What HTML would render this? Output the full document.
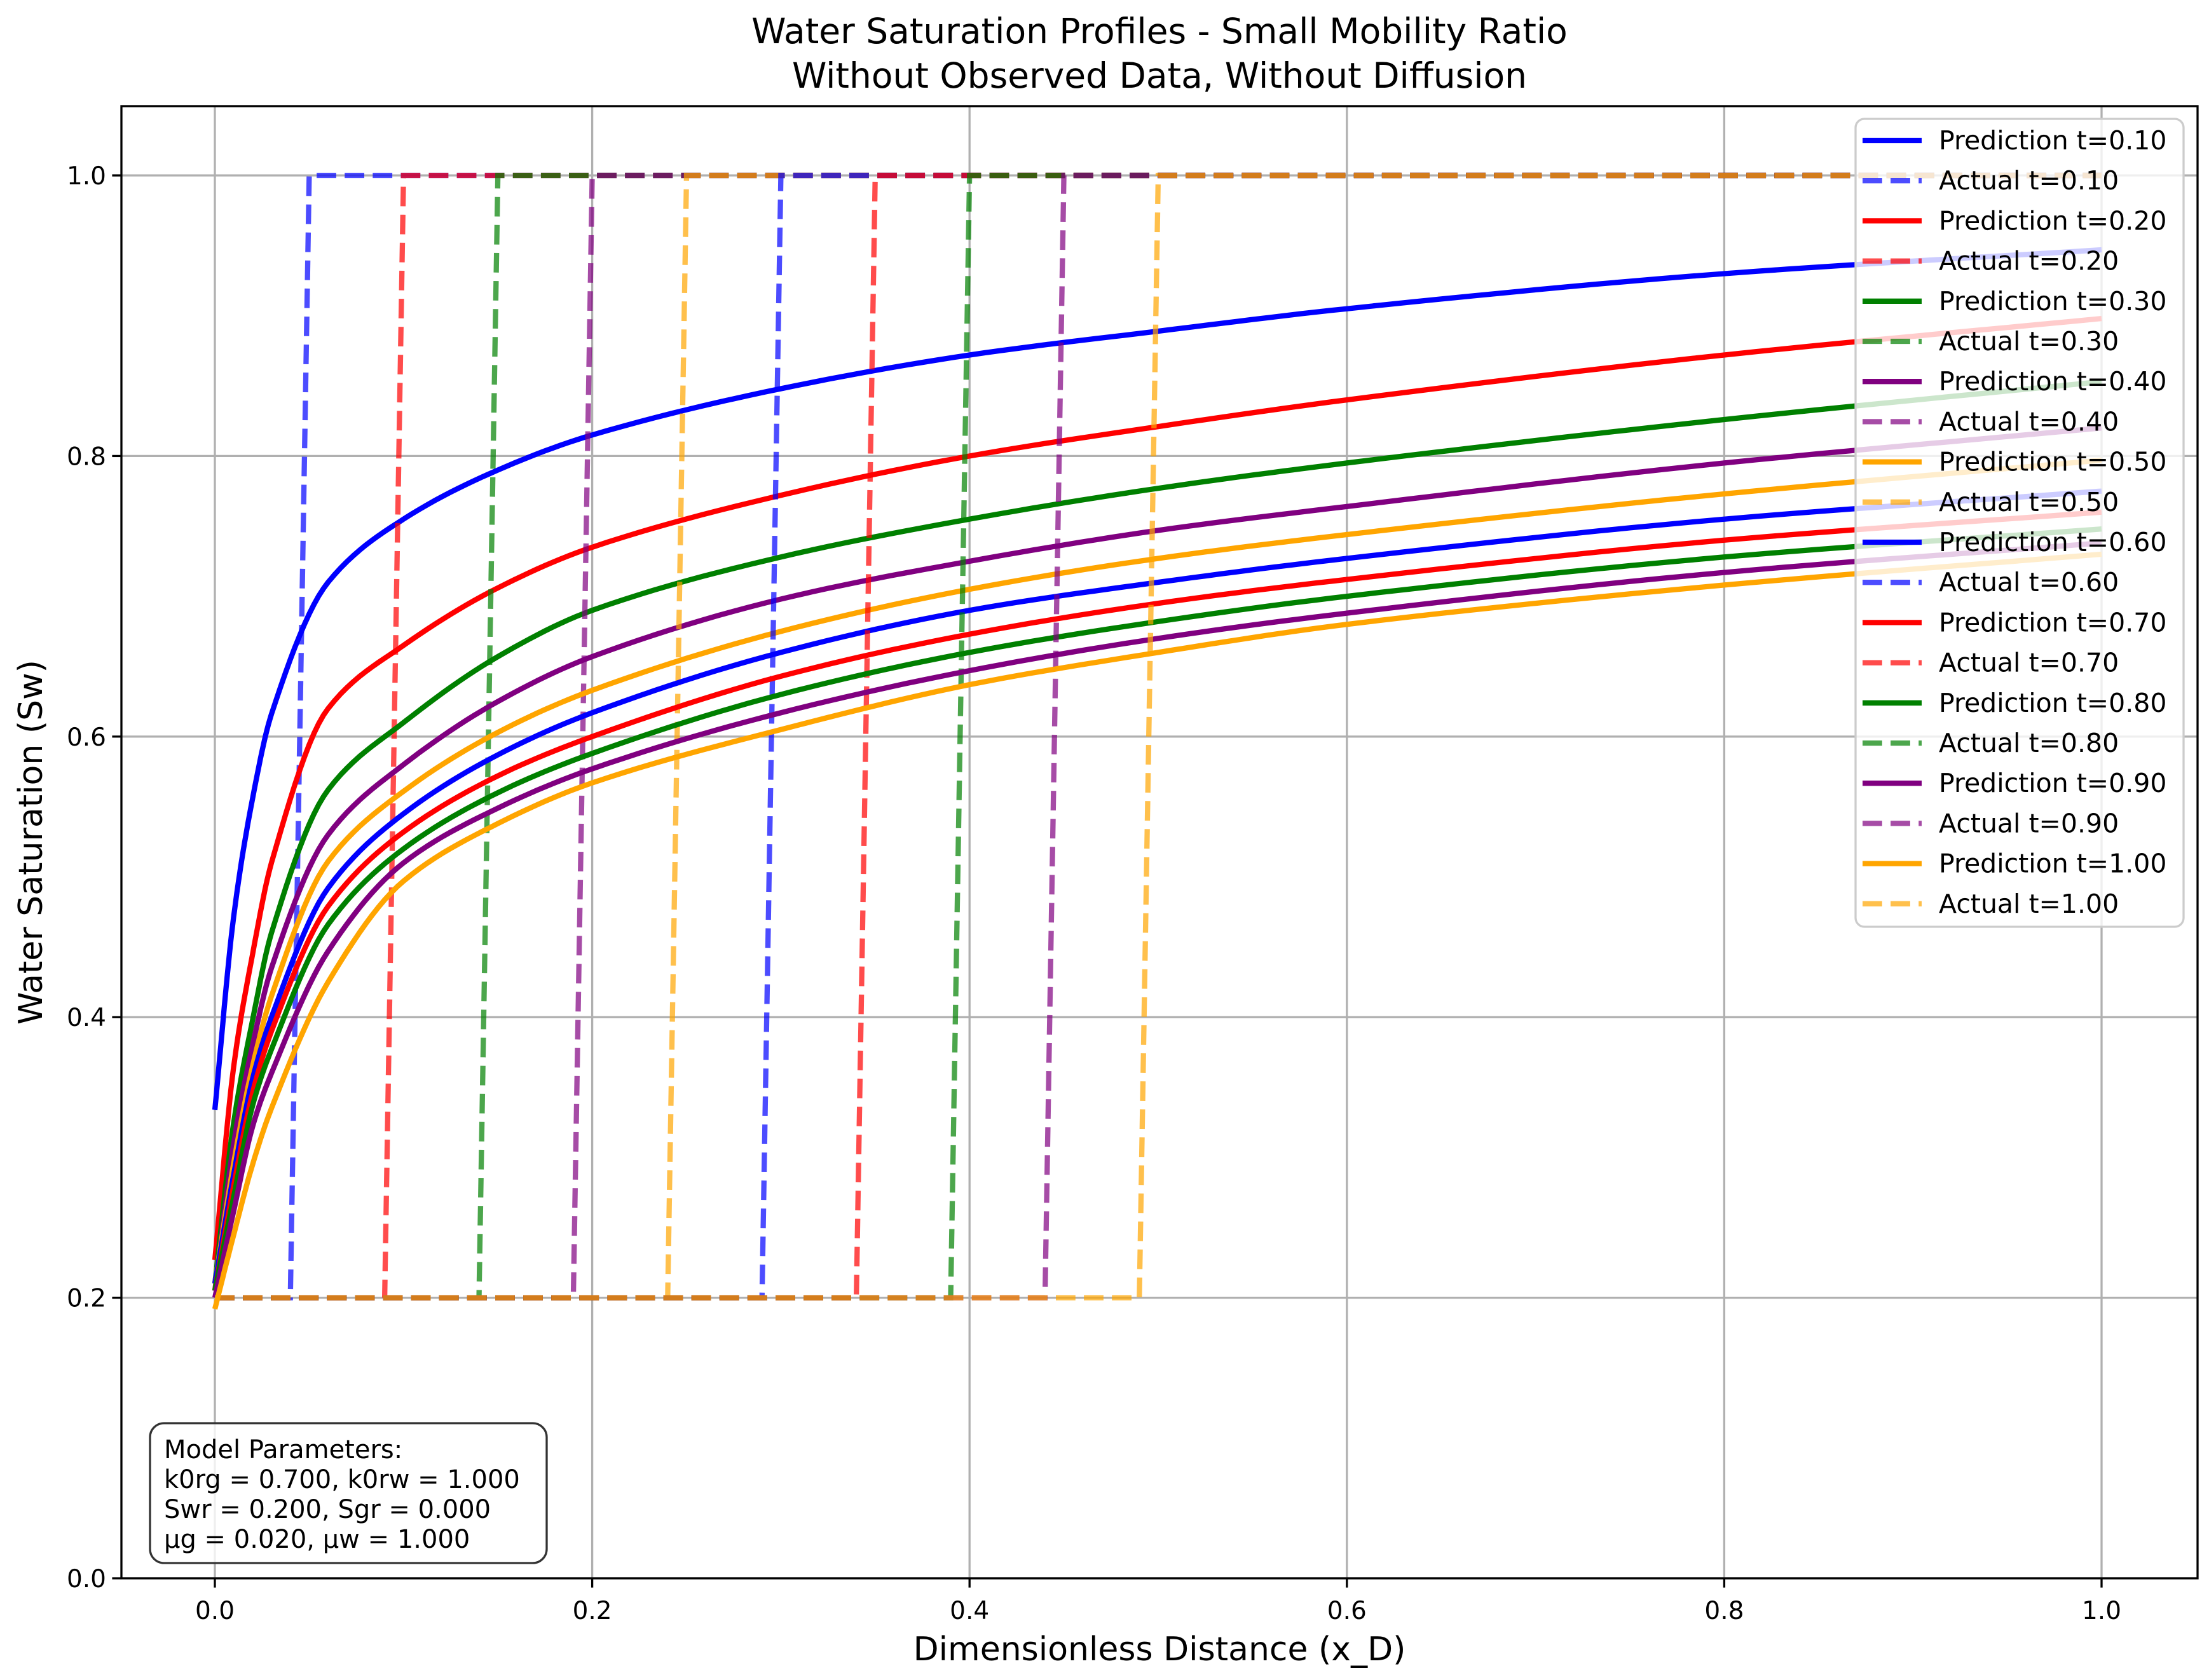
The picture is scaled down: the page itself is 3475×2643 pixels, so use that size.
<!DOCTYPE html>
<html><head><meta charset="utf-8"><style>body{margin:0;background:#fff}svg{display:block}text{font-family:"DejaVu Sans","Liberation Sans",sans-serif}</style></head>
<body>
<svg id="chart" width="3475" height="2643" viewBox="0 0 3475 2643" xmlns="http://www.w3.org/2000/svg">
<rect width="3475" height="2643" fill="#fff"/>
<text x="1824" y="68" font-size="55" text-anchor="middle">Water Saturation Profiles - Small Mobility Ratio</text>
<text x="1824" y="138" font-size="55" text-anchor="middle">Without Observed Data, Without Diffusion</text>
<g id="grid"></g><g id="series"></g><g id="axes"></g><g id="legend"></g>
<text x="1824" y="2612" font-size="52" text-anchor="middle">Dimensionless Distance (x_D)</text>
<text transform="translate(66,1325) rotate(-90)" font-size="52" text-anchor="middle">Water Saturation (Sw)</text>
<g>
<rect x="236" y="2239" width="624" height="220" rx="22" fill="#fff" fill-opacity="0.8" stroke="#333" stroke-width="3.3"/>
<text x="258" y="2294" font-size="40">Model Parameters:</text>
<text x="258" y="2341" font-size="40">k0rg = 0.700, k0rw = 1.000</text>
<text x="258" y="2388" font-size="40">Swr = 0.200, Sgr = 0.000</text>
<text x="258" y="2435" font-size="40">µg = 0.020, µw = 1.000</text>
</g>
</svg>
<script>
const times=[0.10,0.20,0.30,0.40,0.50,0.60,0.70,0.80,0.90,1.00];
const colors=['#0000ff','#ff0000','#008000','#800080','#ffa500','#0000ff','#ff0000','#008000','#800080','#ffa500'];
const predX=[0,0.01,0.02,0.03,0.06,0.1,0.15,0.2,0.3,0.4,0.5,0.6,0.8,1.0];
const pred1=[0.334,0.472,0.556,0.616,0.71,0.755,0.79,0.815,0.848,0.872,0.889,0.905,0.93,0.947];
const pred2=[0.227,0.365,0.445,0.51,0.62,0.665,0.706,0.735,0.772,0.80,0.821,0.84,0.872,0.898];
const pred3=[0.21,0.325,0.398,0.46,0.562,0.61,0.657,0.69,0.728,0.755,0.777,0.795,0.826,0.853];
const pred4=[0.205,0.31,0.38,0.435,0.53,0.58,0.625,0.657,0.698,0.725,0.747,0.764,0.795,0.82];
const pred5=[0.21,0.296,0.365,0.415,0.511,0.561,0.603,0.633,0.675,0.705,0.727,0.744,0.773,0.797];
const pred6=[0.21,0.288,0.356,0.40,0.492,0.545,0.587,0.617,0.66,0.69,0.71,0.727,0.755,0.775];
const pred7=[0.205,0.28,0.346,0.39,0.479,0.532,0.572,0.60,0.643,0.673,0.695,0.712,0.74,0.76];
const pred8=[0.205,0.272,0.337,0.377,0.466,0.52,0.56,0.588,0.63,0.66,0.682,0.70,0.728,0.748];
const pred9=[0.20,0.262,0.322,0.36,0.447,0.51,0.549,0.577,0.617,0.647,0.67,0.688,0.717,0.738];
const pred10=[0.192,0.245,0.295,0.335,0.425,0.497,0.538,0.567,0.605,0.637,0.66,0.68,0.708,0.73];
const preds=[pred1,pred2,pred3,pred4,pred5,pred6,pred7,pred8,pred9,pred10];
const fronts=[0.05,0.10,0.15,0.20,0.25,0.30,0.35,0.40,0.45,0.50];
const swInit=0.2, swFront=1.0;
const xTicks=[0,0.2,0.4,0.6,0.8,1.0];
const yTicks=[0,0.2,0.4,0.6,0.8,1.0];
const X0=191,X1=3457,Y0=167,Y1=2483;
const xs=v=>338+(v)*2968, ys=v=>2483-v*2207;
const NS='http://www.w3.org/2000/svg';
function mk(tag,attrs,parent){const e=document.createElementNS(NS,tag);for(const k in attrs)e.setAttribute(k,attrs[k]);parent.appendChild(e);return e;}
const grid=document.getElementById('grid'),axes=document.getElementById('axes'),ser=document.getElementById('series'),leg=document.getElementById('legend');
xTicks.forEach(t=>{
 const g=mk('line',{x1:xs(t),x2:xs(t),y1:Y0,y2:Y1,stroke:'#b0b0b0','stroke-width':3.3},grid);
 
 
 const tk=mk('line',{x1:xs(t),x2:xs(t),y1:Y1,y2:Y1+14.6,stroke:'#000','stroke-width':3.3},axes);
 
 
 const tx=mk('text',{x:xs(t),y:Y1+64,'font-size':39,'text-anchor':'middle'},axes);tx.textContent=t.toFixed(1);
 
 
});
yTicks.forEach(t=>{
 const g=mk('line',{x1:X0,x2:X1,y1:ys(t),y2:ys(t),stroke:'#b0b0b0','stroke-width':3.3},grid);
 
 
 const tk=mk('line',{x1:X0-14.6,x2:X0,y1:ys(t),y2:ys(t),stroke:'#000','stroke-width':3.3},axes);
 
 
 const tx=mk('text',{x:X0-24,y:ys(t)+14,'font-size':39,'text-anchor':'end'},axes);tx.textContent=t.toFixed(1);
 
 
});
const frame=mk('rect',{x:X0,y:Y0,width:X1-X0,height:Y1-Y0,fill:'none',stroke:'#000','stroke-width':3.3},axes);


function smoothPts(xa,ya){
 const n=xa.length,d=[],m=[];
 for(let i=0;i<n-1;i++)d.push((ya[i+1]-ya[i])/(xa[i+1]-xa[i]));
 m[0]=d[0];m[n-1]=d[n-2];
 for(let i=1;i<n-1;i++){m[i]=(d[i-1]*d[i]<=0)?0:2/(1/d[i-1]+1/d[i]);}
 const out=[];
 for(let i=0;i<n-1;i++){const h=xa[i+1]-xa[i];for(let k=0;k<12;k++){const t=k/12,t2=t*t,t3=t2*t;
  const y=(2*t3-3*t2+1)*ya[i]+(t3-2*t2+t)*h*m[i]+(-2*t3+3*t2)*ya[i+1]+(t3-t2)*h*m[i+1];
  out.push(xs(xa[i]+t*h).toFixed(1)+','+ys(y).toFixed(1));}}
 out.push(xs(xa[n-1]).toFixed(1)+','+ys(ya[n-1]).toFixed(1));
 return out.join(' ');
}
for(let i=0;i<times.length;i++){
 const p=mk('polyline',{points:smoothPts(predX,preds[i]),fill:'none',stroke:colors[i],'stroke-width':8.3,'stroke-linejoin':'round'},ser);
 
 
 const f=fronts[i];
 const pts=[[0,swInit],[f-0.01,swInit],[f,swFront],[1,swFront]].map(q=>xs(q[0])+','+ys(q[1])).join(' ');
 const a=mk('polyline',{points:pts,fill:'none',stroke:colors[i],'stroke-opacity':0.7,'stroke-width':8.3,'stroke-dasharray':'30.8 13.3'},ser);
 
 
}
const lb=mk('rect',{x:2919,y:187,width:516,height:1271,rx:14,fill:'#fff','fill-opacity':0.8,stroke:'#cccccc','stroke-width':3.3},leg);


for(let i=0;i<times.length;i++){
 for(let j=0;j<2;j++){
  const y=221+(i*2+j)*63.2;
  const l=mk('line',{x1:2930,x2:3023,y1:y,y2:y,stroke:colors[i],'stroke-width':8.3,'stroke-opacity':j?0.7:1},leg);
  if(j)l.setAttribute('stroke-dasharray','30.8 13.3');
  
  
  const t=mk('text',{x:3050,y:y+14,'font-size':41},leg);
  t.textContent=(j?'Actual':'Prediction')+' t='+times[i].toFixed(2);
  
  
 }
}
</script>
</body></html>
